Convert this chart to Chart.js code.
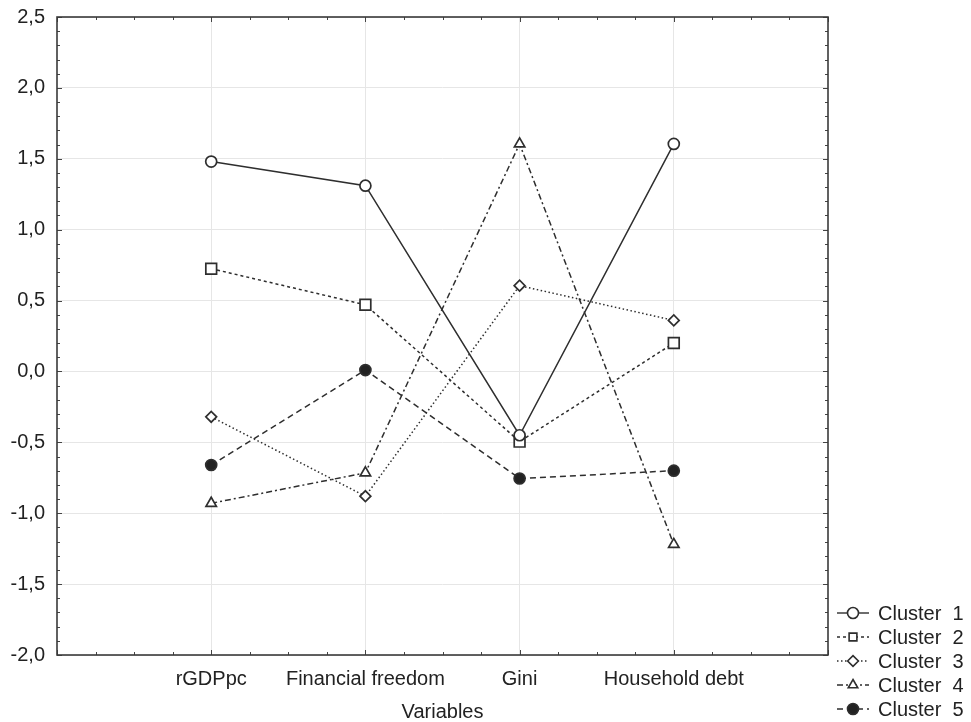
<!DOCTYPE html>
<html lang="en">
<head>
  <meta charset="UTF-8">
  <title>Cluster means</title>
  <script src="https://cdn.jsdelivr.net/npm/chart.js"></script>
  <style>
    html, body { margin: 0; padding: 0; background: #fff; }
    #wrap { width: 971px; height: 722px; }
  </style>
</head>
<body>
<div id="wrap"><canvas id="chart" width="971" height="722"></canvas></div>

<script>
// data
const variables = ["rGDPpc", "Financial freedom", "Gini", "Household debt"];
const clusterNames = ["Cluster  1", "Cluster  2", "Cluster  3", "Cluster  4", "Cluster  5"];
const cluster1 = [1.48, 1.31, -0.45, 1.605];
const cluster2 = [0.725, 0.47, -0.495, 0.20];
const cluster3 = [-0.32, -0.88, 0.605, 0.36];
const cluster4 = [-0.93, -0.715, 1.605, -1.22];
const cluster5 = [-0.66, 0.01, -0.755, -0.70];
const yTicks = [-2.0, -1.5, -1.0, -0.5, 0.0, 0.5, 1.0, 1.5, 2.0, 2.5];

const ink = "#2e2e2e";
const styles = [
  { dash: [], point: "circle", fill: "#fff", r: 5.5 },
  { dash: [3, 3], point: "rect", fill: "#fff", r: 7.6 },
  { dash: [1.5, 2.5], point: "rectRot", fill: "#fff", r: 5.4 },
  { dash: [6, 3, 2, 3], point: "triangle", fill: "#fff", r: 6 },
  { dash: [6, 4], point: "circle", fill: "#222", r: 5.5 }
];
const series = [cluster1, cluster2, cluster3, cluster4, cluster5];

const datasets = series.map((vals, i) => ({
  label: clusterNames[i],
  data: vals.map((v, j) => ({ x: j + 1, y: v })),
  borderColor: ink,
  borderWidth: 1.5,
  borderDash: styles[i].dash,
  pointStyle: styles[i].point,
  pointRadius: styles[i].r,
  pointBackgroundColor: styles[i].fill,
  pointBorderColor: ink,
  pointBorderWidth: 1.7,
  fill: false,
  tension: 0
}));

// frame, minor ticks and legend
const framePlugin = {
  id: "frame",
  afterDraw(chart) {
    const c = chart.ctx, a = chart.chartArea;
    const xs = chart.scales.x, ys = chart.scales.y;
    c.save();
    c.strokeStyle = "#444";
    c.lineWidth = 1;
    for (let k = 0; k <= 45; k++) {
      const v = -2 + k * 0.1;
      const py = Math.round(ys.getPixelForValue(v)) + 0.5;
      const len = k % 5 === 0 ? 5 : 3;
      c.beginPath();
      c.moveTo(a.left, py); c.lineTo(a.left + len, py);
      c.moveTo(a.right, py); c.lineTo(a.right - len, py);
      c.stroke();
    }
    for (let k = 0; k <= 20; k++) {
      const px = Math.round(xs.getPixelForValue(k * 0.25)) + 0.5;
      const len = k % 4 === 0 ? 5 : 3;
      c.beginPath();
      c.moveTo(px, a.bottom); c.lineTo(px, a.bottom - len);
      c.moveTo(px, a.top); c.lineTo(px, a.top + len);
      c.stroke();
    }
    c.lineWidth = 1.6;
    c.strokeStyle = "#3a3a3a";
    c.strokeRect(a.left, a.top, a.right - a.left, a.bottom - a.top);

    // legend
    c.font = "20px 'Liberation Sans', Arial, sans-serif";
    c.textBaseline = "middle";
    chart.data.datasets.forEach((ds, i) => {
      const y = a.bottom - 42 + i * 24;
      const x0 = a.right + 9;
      c.strokeStyle = ink;
      c.lineWidth = 1.4;
      c.setLineDash(ds.borderDash);
      c.beginPath(); c.moveTo(x0, y); c.lineTo(x0 + 32, y); c.stroke();
      c.setLineDash([]);
      c.lineWidth = 1.6;
      c.fillStyle = ds.pointBackgroundColor;
      Chart.helpers.drawPoint(c, {
        pointStyle: ds.pointStyle, radius: Math.min(ds.pointRadius, 5.5), rotation: 0, borderWidth: 1.6
      }, x0 + 16, y);
      c.fillStyle = "#222";
      c.fillText(ds.label, x0 + 41, y + 1);
    });
    c.restore();
  }
};

Chart.defaults.font.family = "'Liberation Sans', Arial, sans-serif";
Chart.defaults.color = "#222";

new Chart(document.getElementById("chart"), {
  type: "line",
  data: { datasets },
  plugins: [framePlugin],
  options: {
    responsive: false,
    animation: false,
    layout: { padding: { top: 17, right: 143, left: 0, bottom: 0 } },
    plugins: { legend: { display: false }, tooltip: { enabled: false } },
    scales: {
      x: {
        type: "linear",
        min: 0, max: 5,
        afterBuildTicks(s) { s.ticks = [0, 1, 2, 3, 4, 5].map(v => ({ value: v })); },
        afterFit(s) { s.height = 67; s.paddingLeft = 0; s.paddingRight = 0; },
        grid: {
          color: ctx => (ctx.tick && (ctx.tick.value === 0 || ctx.tick.value === 5)) ? "rgba(0,0,0,0)" : "#e6e6e6",
          lineWidth: 1,
          drawTicks: false
        },
        border: { display: false },
        ticks: {
          padding: 12,
          font: { size: 20 },
          color: "#222",
          maxRotation: 0,
          autoSkip: false,
          callback: v => variables[v - 1] || ""
        },
        title: {
          display: true,
          text: "Variables",
          font: { size: 20 },
          color: "#222",
          padding: { top: 0, bottom: -2 }
        }
      },
      y: {
        min: -2, max: 2.5,
        afterBuildTicks(s) { s.ticks = yTicks.map(v => ({ value: v })); },
        afterFit(s) { s.width = 57; s.paddingTop = 0; s.paddingBottom = 0; },
        grid: { color: "#e6e6e6", lineWidth: 1, drawTicks: false },
        border: { display: false },
        ticks: {
          padding: 12,
          font: { size: 20 },
          color: "#222",
          callback: v => v.toFixed(1).replace(".", ",")
        }
      }
    }
  }
});
</script>
</body>
</html>
